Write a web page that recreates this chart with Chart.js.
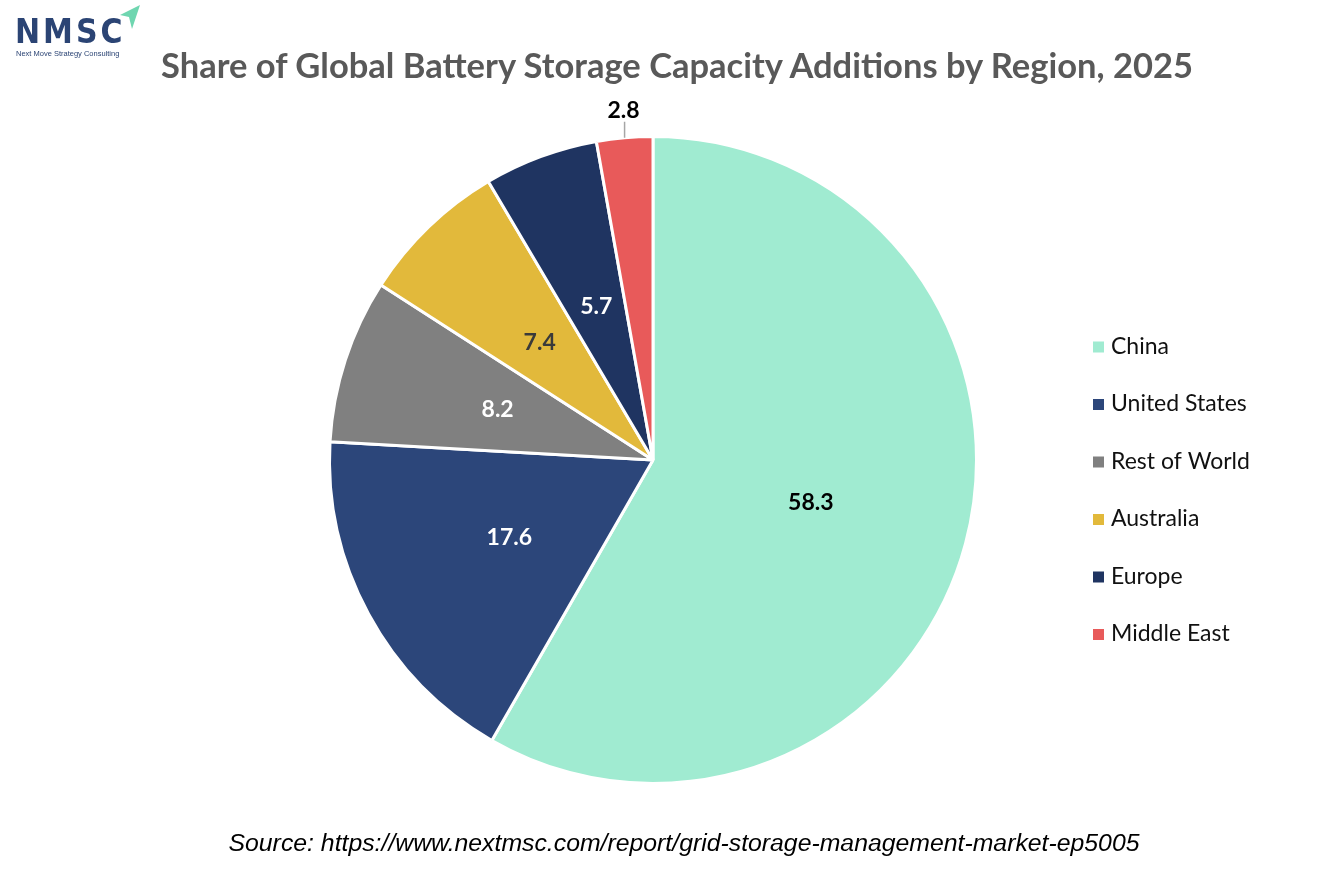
<!DOCTYPE html>
<html>
<head>
<meta charset="utf-8">
<script src="https://cdn.jsdelivr.net/npm/chart.js@4.4.1/dist/chart.umd.min.js"></script>
<style>
  html, body { margin: 0; padding: 0; background: #ffffff; }
  #wrap { position: relative; width: 1334px; height: 889px; overflow: hidden; }
  #chartBox { position: absolute; left: 0; top: 0; width: 1334px; height: 889px; }
  #title { position: absolute; left: 0; width: 1354px; top: 44px; text-align: center;
    font-family: Lato, "Open Sans", sans-serif; font-weight: 700; font-size: 34.5px; color: #595959; line-height: 42px; }
  #source { position: absolute; left: 0; width: 1368px; top: 828px; text-align: center;
    font-family: "Liberation Sans", Arial, sans-serif; font-style: italic; font-size: 24.8px; color: #000; line-height: 30px; }
  #logo { position: absolute; left: 14px; top: 6px; width: 130px; height: 55px; }
  #logoText { position: absolute; left: 1px; top: 6px; font-family: "DejaVu Sans", sans-serif; font-weight: 700;
    font-size: 30px; letter-spacing: 3px; color: #2B4474; transform: scaleY(1.1); transform-origin: top left; }
  #logoSub { position: absolute; left: 2px; top: 43px; font-family: "Liberation Sans", Arial, sans-serif;
    font-size: 7.5px; color: #2B4474; white-space: nowrap; }
</style>
</head>
<body>
<div id="wrap">
  <div id="chartBox"><canvas id="c" width="1334" height="889"></canvas></div>
  <div id="logo">
    <div id="logoText">NMSC</div>
    <div id="logoSub">Next Move Strategy Consulting</div>
    <svg style="position:absolute;left:106px;top:-1px" width="22" height="26" viewBox="0 0 22 26">
      <polygon points="20,0 0,10 9,12 12,24" fill="#6FD6B0"/>
    </svg>
  </div>
  <div id="title">Share of Global Battery Storage Capacity Additions by Region, 2025</div>
  <div id="source">Source: https://www.nextmsc.com/report/grid-storage-management-market-ep5005</div>
</div>
<script>
const categories = ["China", "United States", "Rest of World", "Australia", "Europe", "Middle East"];
const shares = [58.3, 17.6, 8.2, 7.4, 5.7, 2.8];
const sliceColors = ["#A0EBD1", "#2C467A", "#808080", "#E2B93B", "#1F3461", "#E85A5A"];
const labelColors = ["#000000", "#FFFFFF", "#FFFFFF", "#3A3A3A", "#FFFFFF", "#000000"];
const outsideLabel = [false, false, false, false, false, true];

const labelPlugin = {
  id: 'sliceLabels',
  afterDatasetsDraw(chart) {
    const ctx = chart.ctx;
    const meta = chart.getDatasetMeta(0);
    ctx.save();
    ctx.font = "700 23px Lato, 'Open Sans', sans-serif";
    ctx.textAlign = 'center';
    ctx.textBaseline = 'middle';
    meta.data.forEach((arc, i) => {
      const p = arc.getProps(['x', 'y', 'startAngle', 'endAngle', 'outerRadius'], true);
      const mid = (p.startAngle + p.endAngle) / 2;
      const txt = shares[i].toFixed(1);
      if (outsideLabel[i]) {
        const x0 = p.x + Math.cos(mid) * p.outerRadius;
        const y0 = p.y + Math.sin(mid) * p.outerRadius;
        const y1 = y0 - 16;
        ctx.strokeStyle = '#A6A6A6';
        ctx.lineWidth = 1.5;
        ctx.beginPath();
        ctx.moveTo(x0, y0);
        ctx.lineTo(x0, y1);
        ctx.stroke();
        ctx.fillStyle = labelColors[i];
        ctx.fillText(txt, x0 - 1, y1 - 11);
      } else {
        const r = p.outerRadius * 0.505;
        ctx.fillStyle = labelColors[i];
        ctx.fillText(txt, p.x + Math.cos(mid) * r, p.y + Math.sin(mid) * r);
      }
    });
    ctx.restore();
  }
};

const legendPlugin = {
  id: 'sideLegend',
  afterDraw(chart) {
    const ctx = chart.ctx;
    ctx.save();
    ctx.font = "23px Lato, 'Open Sans', sans-serif";
    ctx.textAlign = 'left';
    ctx.textBaseline = 'middle';
    const x = 1093, y0 = 346.5, step = 57.5;
    chart.data.labels.forEach((lab, i) => {
      const y = y0 + i * step;
      ctx.fillStyle = chart.data.datasets[0].backgroundColor[i];
      ctx.fillRect(x, y - 5, 11, 11);
      ctx.fillStyle = '#111111';
      ctx.fillText(lab, x + 18, y);
    });
    ctx.restore();
  }
};

new Chart(document.getElementById('c'), {
  type: 'pie',
  data: {
    labels: categories,
    datasets: [{
      data: shares,
      backgroundColor: sliceColors,
      borderColor: '#FFFFFF',
      borderWidth: 3
    }]
  },
  options: {
    responsive: false,
    animation: false,
    rotation: 0,
    layout: { padding: { top: 134, bottom: 103, left: 328, right: 356 } },
    plugins: {
      legend: { display: false },
      tooltip: { enabled: false },
      title: { display: false }
    }
  },
  plugins: [labelPlugin, legendPlugin]
});
</script>
</body>
</html>
